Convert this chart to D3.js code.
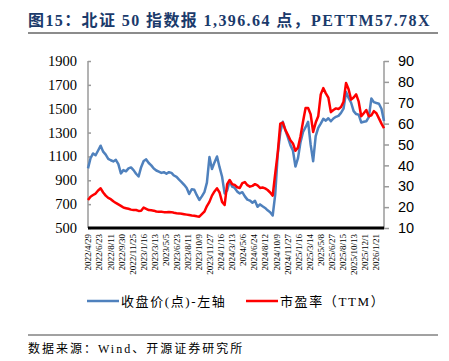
<!DOCTYPE html>
<html>
<head>
<meta charset="utf-8">
<script src="https://cdn.jsdelivr.net/npm/d3@7"></script>
<style>
  body { margin: 0; background: #fff; }
  svg { display: block; }
</style>
</head>
<body>
<svg width="449" height="361"></svg>
<script>
// sampled every 8 trading days, starting 2022/4/29
const step = 8;
const closeValues = [
    1000, 1085, 1125, 1110, 1150, 1190, 1140, 1115, 1080, 1068,
    1058, 1072, 1035, 958, 985, 975, 1000, 1008, 985, 955,
    932, 1010, 1062, 1075, 1045, 1025, 998, 982, 972, 962,
    968, 955, 968, 962, 940, 928, 905, 885, 862, 835,
    785, 825, 820, 775, 735, 765, 800, 880, 1095, 995,
    1050, 1100, 1010, 930, 790, 815, 895, 846, 836, 805,
    790, 800, 765, 738, 730, 712, 728, 678, 698, 682,
    668, 648, 632, 605, 780, 1120, 1300, 1390, 1320, 1260,
    1195, 1150, 1015, 1085, 1220, 1305, 1345, 1390, 1200, 1060,
    1270, 1340, 1375, 1415, 1400, 1420, 1395, 1418, 1432, 1440,
    1465, 1500, 1640, 1590, 1550, 1480, 1455, 1450, 1385, 1390,
    1395, 1430, 1585, 1555, 1548, 1542, 1500, 1396.64
];
const peValues = [
    23.4, 25.0, 25.8, 26.5, 28.0, 29.0, 27.0, 25.5, 24.4, 23.8,
    22.8, 22.0, 21.3, 20.6, 19.8, 19.5, 19.2, 18.8, 18.6, 18.6,
    18.2, 18.3, 19.8, 19.2, 18.6, 18.5, 18.3, 17.9, 17.8, 17.8,
    17.6, 17.5, 17.7, 17.6, 17.3, 17.1, 17.0, 16.8, 16.6, 16.4,
    16.2, 16.0, 15.9, 15.6, 15.4, 16.6, 17.8, 20.5, 22.5, 25.5,
    27.5, 29.0, 27.0, 22.5, 21.0, 31.0, 33.0, 31.0, 30.6, 29.5,
    29.2, 31.5, 32.0, 30.5, 29.8, 30.2, 31.0, 30.4, 29.2, 29.4,
    29.0, 28.2, 27.0, 25.5, 36.0, 46.0, 60.0, 60.5, 57.0, 54.6,
    52.0, 50.5, 47.0, 48.5, 54.0, 61.0, 67.5, 67.5, 64.5, 56.0,
    60.5, 63.5, 74.0, 77.0, 74.5, 72.5, 65.5, 66.5, 67.3, 67.0,
    68.0, 70.5, 79.5, 76.5, 71.5, 72.5, 74.0, 70.5, 63.5, 65.0,
    66.5, 63.5, 64.0, 66.0, 65.0, 62.5, 60.0, 57.78
];
// a date label every 35 trading days
const tickEvery = 35;
const dateLabels = [
    '2022/4/29', '2022/6/23', '2022/8/11', '2022/9/30', '2022/11/25',
    '2023/1/16', '2023/3/13', '2023/5/5', '2023/6/23', '2023/8/11',
    '2023/10/9', '2023/11/27', '2024/1/16', '2024/3/13', '2024/5/6',
    '2024/6/24', '2024/8/12', '2024/10/9', '2024/11/27', '2025/1/16',
    '2025/3/14', '2025/5/8', '2025/6/27', '2025/8/15', '2025/10/13',
    '2025/12/1', '2026/1/21'
];
const leftTicks = [500, 700, 900, 1100, 1300, 1500, 1700, 1900];
const rightTicks = [10, 20, 30, 40, 50, 60, 70, 80, 90];

const plotLeft = 88, plotRight = 384, plotTop = 61, plotBottom = 228;
const serif = '"Liberation Serif", "Times New Roman", serif';
const cjk = '"Liberation Serif", "Noto Sans CJK SC", serif';

const svg = d3.select('svg');

// ----------------------------------------------------------
//                      title
// ----------------------------------------------------------

svg.append('text')
    .attr('x', 28).attr('y', 26)
    .attr('font-family', cjk)
    .attr('font-weight', 'bold')
    .attr('font-size', 16)
    .attr('letter-spacing', 1.4)
    .attr('fill', '#1a3a6b')
    .text('图15：北证 50 指数报 1,396.64 点，PETTM57.78X');

svg.append('line')
    .attr('x1', 28).attr('x2', 438)
    .attr('y1', 33).attr('y2', 33)
    .attr('stroke', '#8c8c8c').attr('stroke-width', 2);

// ----------------------------------------------------------
//                      scales
// ----------------------------------------------------------

const lastIndex = (closeValues.length - 1) * step;

const xScale = d3.scaleLinear()
    .domain([0, lastIndex])
    .range([plotLeft, plotRight]);

const yLeft = d3.scaleLinear()
    .domain([500, 1900])
    .range([plotBottom, plotTop]);

const yRight = d3.scaleLinear()
    .domain([10, 90])
    .range([plotBottom, plotTop]);

// ----------------------------------------------------------
//                      axes
// ----------------------------------------------------------

const leftAxis = svg.append('g')
    .attr('transform', `translate(${plotLeft}, 0)`)
    .call(d3.axisRight(yLeft).tickValues(leftTicks).tickSize(3).tickFormat(''));
leftAxis.selectAll('line, path').attr('stroke', '#9a9a9a').attr('stroke-width', 1.5);
leftAxis.select('.domain').attr('d', `M0,${plotTop}V${plotBottom}`);

leftTicks.forEach((t) => {
    svg.append('text')
        .attr('x', plotLeft - 11).attr('y', yLeft(t) + 5)
        .attr('text-anchor', 'end')
        .attr('font-family', serif)
        .attr('font-size', 14.5)
        .attr('fill', '#000')
        .text(t);
});

const rightAxis = svg.append('g')
    .attr('transform', `translate(${plotRight}, 0)`)
    .call(d3.axisRight(yRight).tickValues(rightTicks).tickSize(5).tickPadding(9));
rightAxis.selectAll('line, path').attr('stroke', '#9a9a9a').attr('stroke-width', 1.5);
rightAxis.select('.domain').attr('d', `M0,${plotTop}V${plotBottom}`);
rightAxis.selectAll('text')
    .attr('font-family', '"Liberation Sans", Arial, sans-serif')
    .attr('font-size', 14.5)
    .attr('fill', '#000');

const xAxis = svg.append('g')
    .attr('transform', `translate(0, ${plotBottom})`)
    .call(d3.axisBottom(xScale)
        .tickValues(dateLabels.map((d, i) => i * tickEvery))
        .tickFormat((d) => dateLabels[d / tickEvery])
        .tickSize(0));
xAxis.select('.domain')
    .attr('d', `M${plotLeft},0H${plotRight}`)
    .attr('stroke', '#000')
    .attr('stroke-width', 3);
xAxis.selectAll('text')
    .attr('font-family', serif)
    .attr('font-size', 9)
    .attr('fill', '#000')
    .attr('text-anchor', 'end')
    .attr('dy', '0.32em')
    .attr('transform', 'translate(0, 6) rotate(-90)')
    .attr('x', 0).attr('y', 0);

// ----------------------------------------------------------
//                      lines
// ----------------------------------------------------------

const closeLine = d3.line()
    .x((d, i) => xScale(i * step))
    .y((d) => yLeft(d));

const peLine = d3.line()
    .x((d, i) => xScale(i * step))
    .y((d) => yRight(d));

svg.append('path')
    .datum(closeValues)
    .attr('d', closeLine)
    .attr('fill', 'none')
    .attr('stroke', '#4f81bd')
    .attr('stroke-width', 2.5)
    .attr('stroke-linejoin', 'round');

svg.append('path')
    .datum(peValues)
    .attr('d', peLine)
    .attr('fill', 'none')
    .attr('stroke', '#ff0000')
    .attr('stroke-width', 2.5)
    .attr('stroke-linejoin', 'round');

// ----------------------------------------------------------
//                      legend + source
// ----------------------------------------------------------

const legend = [
    { label: '收盘价(点)-左轴', color: '#4f81bd', x: 87 },
    { label: '市盈率（TTM）', color: '#ff0000', x: 246 }
];

legend.forEach((l) => {
    svg.append('line')
        .attr('x1', l.x).attr('x2', l.x + 32)
        .attr('y1', 301).attr('y2', 301)
        .attr('stroke', l.color).attr('stroke-width', 2.5);
    svg.append('text')
        .attr('x', l.x + 34).attr('y', 306)
        .attr('font-family', cjk)
        .attr('font-size', 13)
        .attr('letter-spacing', 1.6)
        .attr('fill', '#000')
        .text(l.label);
});

svg.append('line')
    .attr('x1', 28).attr('x2', 438)
    .attr('y1', 335).attr('y2', 335)
    .attr('stroke', '#444').attr('stroke-width', 1);

svg.append('text')
    .attr('x', 28).attr('y', 353)
    .attr('font-family', cjk)
    .attr('font-size', 12)
    .attr('letter-spacing', 2)
    .attr('fill', '#000')
    .text('数据来源：Wind、开源证券研究所');
</script>
</body>
</html>
